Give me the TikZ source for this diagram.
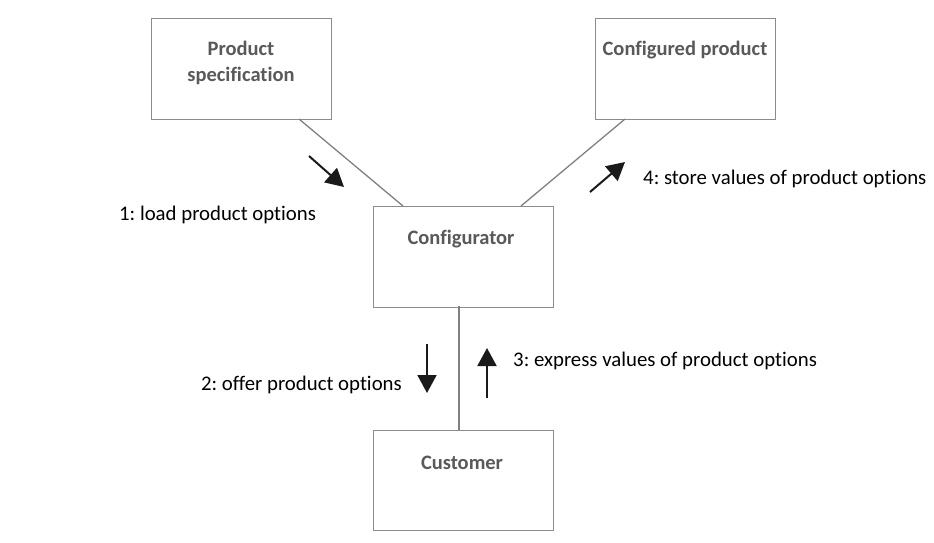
\documentclass[tikz,border=0pt]{standalone}
\usepackage{fontspec}
\setmainfont[Ligatures=NoCommon]{Carlito}
\frenchspacing
\usetikzlibrary{arrows.meta}
\definecolor{boxgray}{HTML}{8C8C8C}
\definecolor{txtgray}{HTML}{595959}
\definecolor{linegray}{HTML}{808080}
\definecolor{arrblack}{HTML}{1A1A1A}
\tikzset{
  box/.style={draw=boxgray, line width=1.3pt, minimum width=180pt, minimum height=101pt, inner sep=0pt, anchor=north west},
  boxtext/.style={font=\fontsize{20.5}{26}\selectfont\bfseries, text=txtgray, align=center, inner sep=0pt},
  link/.style={draw=linegray, line width=1.3pt},
  flow/.style={draw=arrblack, line width=2pt, -{Triangle[length=18pt,width=19pt]}},
  lbl/.style={font=\fontsize{20.8}{24}\selectfont\frenchspacing, text=black, inner sep=0pt}
}
\begin{document}
\begin{tikzpicture}[x=1pt,y=-1pt]
\useasboundingbox (0,0) rectangle (934,543);
\node[box] (ps) at (151,18) {};
\node[box] (cp) at (595,18) {};
\node[box] (cf) at (373,206) {};
\node[box,minimum height=100pt] (cu) at (373,430) {};
\node[boxtext] (psT) at (241,63) {Product\\specification};
\node[boxtext] (cpT) at (685,50) {Configured product};
\node[boxtext] (cfT) at (461,239) {Configurator};
\node[boxtext] (cuT) at (462,463) {Customer};
\coordinate (psA) at (299,119);
\coordinate (cfA) at (403,206);
\coordinate (cpA) at (625,119);
\coordinate (cfB) at (521,206);
\coordinate (cfC) at (459,306);
\coordinate (cuA) at (459,430);
\draw[link] (psA) -- (cfA);
\draw[link] (cpA) -- (cfB);
\draw[link] (cfC) -- (cuA);
\coordinate (a1s) at (309,156);
\coordinate (a1e) at (344,187);
\coordinate (a4s) at (590,192);
\coordinate (a4e) at (625,162);
\coordinate (a2s) at (427,344);
\coordinate (a2e) at (427,393);
\coordinate (a3s) at (487,398);
\coordinate (a3e) at (487,348);
\draw[flow] (a1s) -- (a1e);
\draw[flow] (a4s) -- (a4e);
\draw[flow] (a2s) -- (a2e);
\draw[flow] (a3s) -- (a3e);
\node[lbl,anchor=west] (l1) at (119,215) {1: load product options};
\node[lbl,anchor=west] (l4) at (643,179) {4: store values of product options};
\node[lbl,anchor=east] (l2) at (402,385) {2: offer product options};
\node[lbl,anchor=west] (l3) at (513,361) {3: express values of product options};
\end{tikzpicture}
\end{document}
